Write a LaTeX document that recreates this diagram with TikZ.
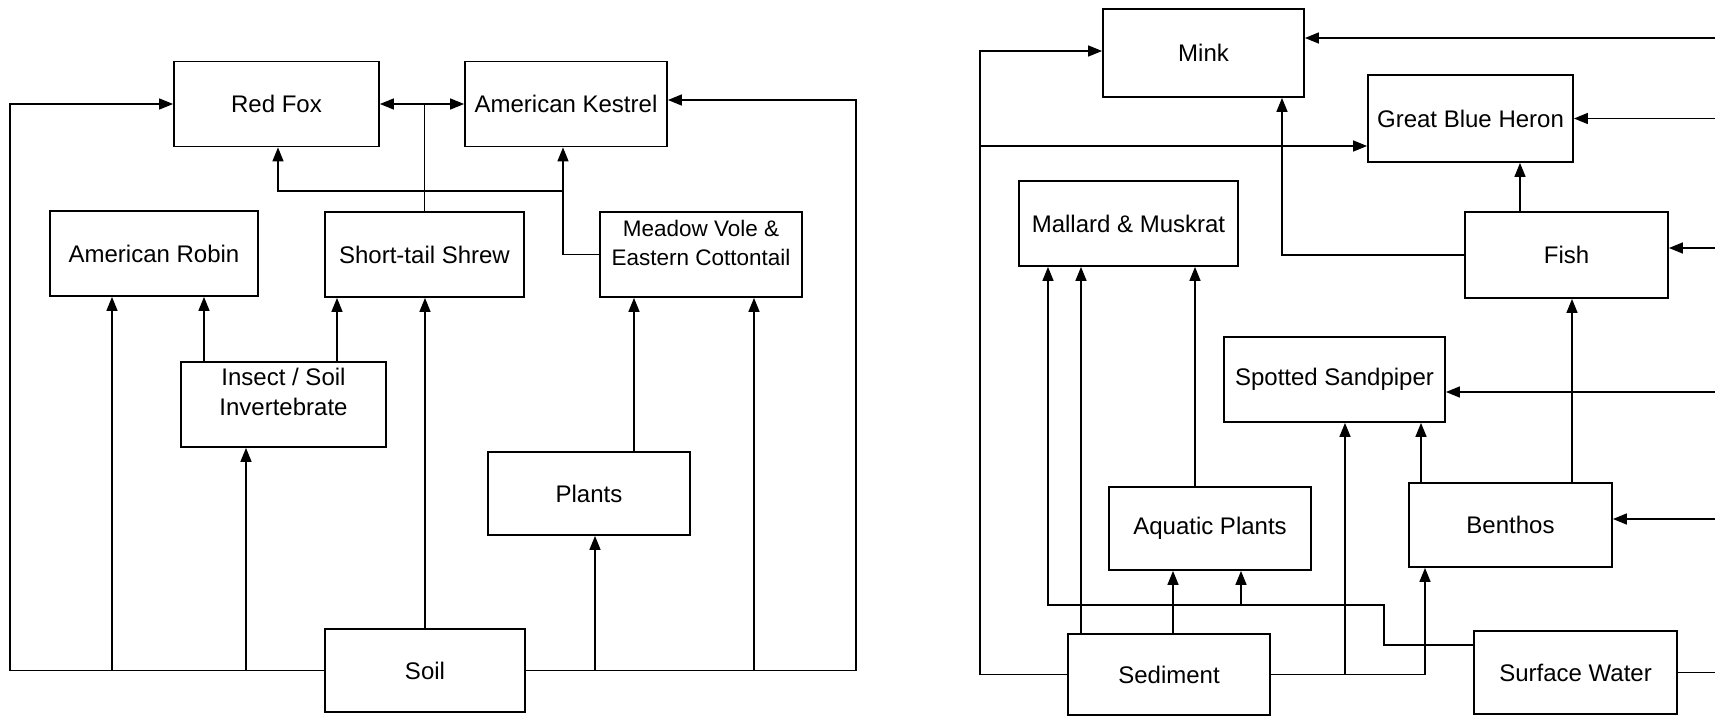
\documentclass[tikz,border=0pt]{standalone}
\usepackage{fontspec}
\setmainfont{Liberation Sans}
\usetikzlibrary{arrows.meta}
\begin{document}
\begin{tikzpicture}[x=1pt,y=-1pt,
  box/.style={draw,line width=1.8pt,inner sep=2pt,align=center,font=\fontsize{24}{30}\selectfont},
  link/.style={line width=1.5pt},
  arr/.style={link,-{Triangle[length=14pt,width=11pt]}}]
\useasboundingbox (0,0) rectangle (1715,717);
% ---------- left diagram ----------
\node[box,minimum width=205pt,minimum height=85pt] (redfox) at (276.5,104) {Red Fox};
\node[box,minimum width=202pt,minimum height=85pt] (kestrel) at (566,104) {American Kestrel};
\node[box,minimum width=208pt,minimum height=85pt] (robin) at (154,253.5) {American Robin};
\node[box,minimum width=199pt,minimum height=85pt] (shrew) at (424.5,254.5) {Short-tail Shrew};
\node[box,minimum width=202pt,minimum height=85pt,text depth=24pt,font=\fontsize{22.5}{29}\selectfont] (meadow) at (701,254.5) {Meadow Vole \&\\Eastern Cottontail};
\node[box,minimum width=205pt,minimum height=85pt,text depth=25pt] (insect) at (283.5,404.5) {Insect / Soil\\Invertebrate};
\node[box,minimum width=202pt,minimum height=83pt] (plants) at (589,493.5) {Plants};
\node[box,minimum width=200pt,minimum height=83pt] (soil) at (425,670.5) {Soil};
\coordinate (lx) at (10,0);
\coordinate (rx) at (856,0);
\draw[arr] (soil.west) -| (lx |- redfox.west) -- (redfox.west);
\draw[arr] (soil.west) -| (112,0 |- robin.south);
\draw[arr] (soil.west) -| (246,0 |- insect.south);
\draw[arr] (soil.north) -- (soil.north |- shrew.south);
\draw[arr] (soil.east) -| (595,0 |- plants.south);
\draw[arr] (soil.east) -| (754,0 |- meadow.south);
\draw[arr] (soil.east) -| (rx |- 0,100) -- (kestrel.east |- 0,100);
\draw[arr] (204,0 |- insect.north) -- (204,0 |- robin.south);
\draw[arr] (337,0 |- insect.north) -- (337,0 |- shrew.south);
\draw[arr] (634,0 |- plants.north) -- (634,0 |- meadow.south);
\draw[arr] (shrew.north) |- (redfox.east);
\draw[arr] (shrew.north) |- (kestrel.west);
\draw[arr] (meadow.west) -| (563,0 |- kestrel.south);
\draw[arr] (meadow.west) -| (563,191) -| (278,0 |- redfox.south);
% ---------- right diagram ----------
\node[box,minimum width=201pt,minimum height=88pt] (mink) at (1203.5,53) {Mink};
\node[box,minimum width=205pt,minimum height=87pt] (gbh) at (1470.5,118.5) {Great Blue Heron};
\node[box,minimum width=219pt,minimum height=85pt] (mallard) at (1128.5,223.5) {Mallard \& Muskrat};
\node[box,minimum width=203pt,minimum height=86pt] (fish) at (1566.5,255) {Fish};
\node[box,minimum width=221pt,minimum height=85pt] (sandpiper) at (1334.5,379.5) {Spotted Sandpiper};
\node[box,minimum width=202pt,minimum height=83pt] (aquatic) at (1210,528.5) {Aquatic Plants};
\node[box,minimum width=203pt,minimum height=84pt] (benthos) at (1510.5,525) {Benthos};
\node[box,minimum width=202pt,minimum height=81pt] (sediment) at (1169,674.5) {Sediment};
\node[box,minimum width=203pt,minimum height=83pt] (surface) at (1575.5,672.5) {Surface Water};
\coordinate (wx) at (980,0);
\coordinate (E) at (1715,0);
\coordinate (sj) at (1384,605);
\draw[arr] (sediment.west) -| (wx |- 0,51) -- (mink.west |- 0,51);
\draw[arr] (sediment.west) -| (wx |- 0,146) -- (gbh.west |- 0,146);
\draw[arr] (1081,0 |- sediment.north) -- (1081,0 |- mallard.south);
\draw[arr] (1173,0 |- sediment.north) -- (1173,0 |- aquatic.south);
\draw[arr] (sediment.east) -| (1345,0 |- sandpiper.south);
\draw[arr] (sediment.east) -| (1425,0 |- benthos.south);
\draw[arr] (surface.west |- 0,645) -| (sj) -| (1048,0 |- mallard.south);
\draw[arr] (surface.west |- 0,645) -| (sj) -| (1241,0 |- aquatic.south);
\draw[arr] (1195,0 |- aquatic.north) -- (1195,0 |- mallard.south);
\draw[arr] (1421,0 |- benthos.north) -- (1421,0 |- sandpiper.south);
\draw[arr] (1572,0 |- benthos.north) -- (1572,0 |- fish.south);
\draw[arr] (1520,0 |- fish.north) -- (1520,0 |- gbh.south);
\draw[arr] (fish.west) -| (1282,0 |- mink.south);
\draw[arr] (E |- 0,38) -- (mink.east |- 0,38);
\draw[arr] (E |- gbh.east) -- (gbh.east);
\draw[arr] (E |- 0,248) -- (fish.east |- 0,248);
\draw[arr] (E |- 0,392) -- (sandpiper.east |- 0,392);
\draw[arr] (E |- 0,519) -- (benthos.east |- 0,519);
\draw[link] (surface.east) -- (E |- surface.east);
\end{tikzpicture}
\end{document}
